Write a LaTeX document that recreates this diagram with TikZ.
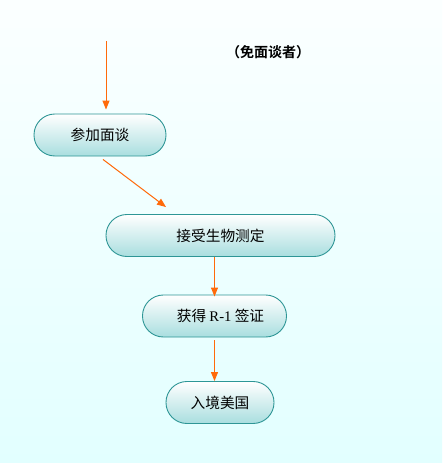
\documentclass[tikz,border=0pt]{standalone}
\usepackage{fontspec}
\newfontfamily\cjk{Noto Sans CJK SC}[BoldFont={Noto Sans CJK SC Bold}]
\newfontfamily\latin{Liberation Serif}
\usetikzlibrary{arrows.meta,calc}
\definecolor{bgtop}{HTML}{FBFFFF}
\definecolor{bgbot}{HTML}{E2FFFF}
\definecolor{boxbot}{HTML}{A9DEDF}
\definecolor{boxline}{HTML}{2E9696}
\definecolor{arrcol}{HTML}{FF6A0A}
\tikzset{
  pill/.style={draw=boxline, line width=0.9pt, top color=white, bottom color=boxbot,
    rounded corners=20.9pt, minimum height=42pt, inner sep=0pt,
    font=\cjk\fontsize{14.67pt}{16pt}\selectfont, text=black},
  arr/.style={draw=arrcol, line width=1pt, -{Triangle[length=9pt,width=7pt]}},
  note/.style={font=\cjk\bfseries\fontsize{14pt}{16pt}\selectfont, text=black}
}
\begin{document}
\begin{tikzpicture}[x=1pt,y=-1pt]
\shade[top color=bgtop, bottom color=bgbot] (0,0) rectangle (442,463);
\useasboundingbox (0,0) rectangle (442,463);
\node[pill, minimum width=132pt] (n1) at (100,135) {参加面谈};
\node[pill, minimum width=229pt] (n2) at (220.5,235.5) {接受生物测定};
\node[pill, minimum width=144pt] (n3) at (214.5,316) {\hspace*{12pt}获得 {\latin R-1} 签证};
\node[pill, minimum width=108pt] (n4) at (220,402.5) {入境美国};
\node[note] (lbl) at (268,52.5) {（免面谈者）};
\coordinate (s1) at (106,41);
\draw[arr, shorten >=4pt] (s1) -- (s1 |- n1.north);
\draw[arr] ([xshift=3pt,yshift=-3pt]n1.south) -- ([xshift=-54.5pt,yshift=7pt]n2.north);
\draw[arr] (n3.north |- n2.south) -- ([yshift=-2pt]n3.north);
\draw[arr] ([yshift=-3pt]n3.south) -- (n3.south |- n4.north);
\end{tikzpicture}
\end{document}
